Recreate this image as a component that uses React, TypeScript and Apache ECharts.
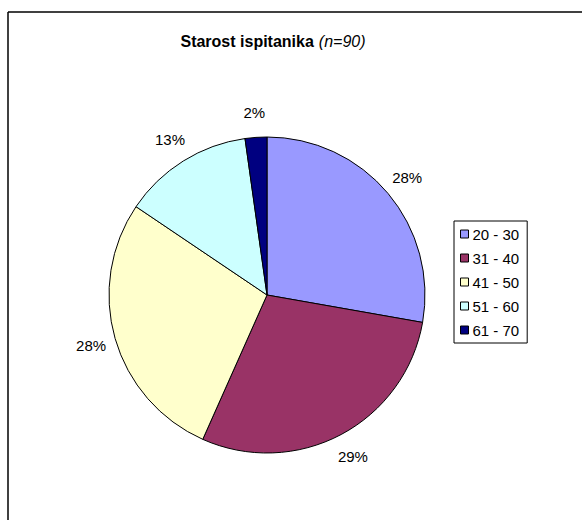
import React, { useEffect, useRef } from "react";
import * as echarts from "echarts";

const categories = ["20 - 30", "31 - 40", "41 - 50", "51 - 60", "61 - 70"];
const counts = [25, 26, 25, 12, 2];
const colors = ["#9999FF", "#993366", "#FFFFCC", "#CCFFFF", "#000080"];
const titleMain = "Starost ispitanika";
const titleSub = "(n=90)";

const FONT = 'Arial, "Liberation Sans", sans-serif';

export default function App() {
  const ref = useRef<HTMLDivElement>(null);
  useEffect(() => {
    if (!ref.current) return;
    const chart = echarts.init(ref.current, undefined, { renderer: "svg" });
    const data = categories.map((name, i) => ({
      name,
      value: counts[i],
      itemStyle: { color: colors[i] },
    }));
    const labelData = categories.map((name, i) => ({ name, value: counts[i] }));
    chart.setOption({
      animation: false,
      backgroundColor: "#ffffff",
      title: {
        text: `{b|${titleMain}} {i|${titleSub}}`,
        left: 268,
        top: 27,
        textAlign: "center",
        textStyle: {
          fontWeight: "normal",
          rich: {
            b: { fontFamily: FONT, fontSize: 16, fontWeight: "bold", color: "#000" },
            i: { fontFamily: FONT, fontSize: 16, fontStyle: "italic", fontWeight: "normal", color: "#000" },
          },
        },
      },
      legend: {
        orient: "vertical",
        left: 454,
        top: 221,
        data: categories,
        icon: "rect",
        itemWidth: 8,
        itemHeight: 8,
        itemGap: 8,
        padding: [5, 8, 5, 6],
        borderColor: "#000",
        borderWidth: 1,
        selectedMode: false,
        itemStyle: { borderColor: "#000", borderWidth: 1 },
        textStyle: { fontFamily: FONT, fontSize: 15, color: "#000", lineHeight: 16, padding: [0, 0, 0, -1] },
      },
      graphic: [
        { type: "line", shape: { x1: 8, y1: 12, x2: 582, y2: 12 }, style: { stroke: "#000", lineWidth: 1.5 } },
        { type: "line", shape: { x1: 8, y1: 12, x2: 8, y2: 520 }, style: { stroke: "#000", lineWidth: 1.5 } },
      ],
      series: [
        {
          type: "pie",
          center: [267, 295],
          radius: [0, 158],
          startAngle: 90,
          clockwise: true,
          silent: true,
          data,
          label: { show: false },
          labelLine: { show: false },
          itemStyle: { borderColor: "#000", borderWidth: 1 },
        },
        {
          type: "pie",
          center: [267, 295],
          radius: [0, 360],
          startAngle: 90,
          clockwise: true,
          silent: true,
          z: 1,
          data: labelData,
          itemStyle: { color: "rgba(0,0,0,0)", borderWidth: 0 },
          label: {
            show: true,
            position: "inside",
            formatter: (p: any) => Math.round(p.percent) + "%",
            fontFamily: FONT,
            fontSize: 15,
            color: "#000",
          },
          labelLine: { show: false },
        },
      ],
    });
    return () => chart.dispose();
  }, []);
  return (
    <div
      ref={ref}
      style={{ position: "fixed", left: 0, top: 0, width: 582, height: 520 }}
    />
  );
}
